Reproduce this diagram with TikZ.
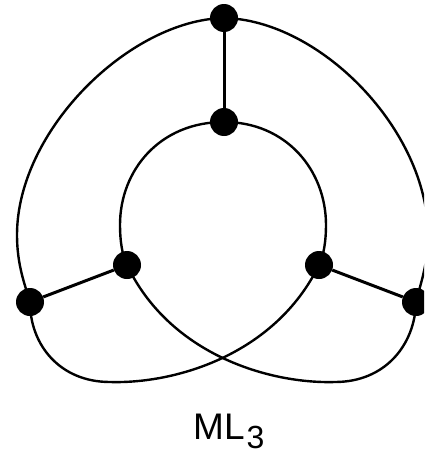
\documentclass[tikz,border=0pt]{standalone}
\usepackage{fontspec}
\setmainfont{Liberation Sans}
\begin{document}
\begin{tikzpicture}[x=1pt,y=-1pt,
  vtx/.style={circle,fill=black,inner sep=0pt,minimum size=28pt},
  curve/.style={line width=2.4pt},
  spoke/.style={line width=3pt}]
\useasboundingbox (0,0) rectangle (424,455);
\clip (0,0) rectangle (424,455);
\node[vtx] (to) at (224,18) {};
\node[vtx] (ti) at (224,122) {};
\node[vtx] (li) at (127,265) {};
\node[vtx] (ri) at (319,265) {};
\node[vtx] (lo) at (30,302) {};
\node[vtx] (ro) at (416,302) {};
% outer arcs
\draw[curve] (to.center) .. controls (130,20) and (17,130) .. (17,235)
  .. controls (17,265) and (25,285) .. (lo.center);
\draw[curve] (to.center) .. controls (320,20) and (428,130) .. (428,235)
  .. controls (428,265) and (420,285) .. (ro.center);
% inner arcs
\draw[curve] (ti.center) .. controls (160,122) and (120,170) .. (120,225)
  .. controls (120,240) and (122,255) .. (li.center);
\draw[curve] (ti.center) .. controls (286,122) and (326,170) .. (326,225)
  .. controls (326,240) and (324,255) .. (ri.center);
% bottom crossing curves
\draw[curve] (lo.center) .. controls (30,345) and (60,382) .. (110,382)
  .. controls (175,384) and (275,355) .. (ri.center);
\draw[curve] (ro.center) .. controls (415,345) and (385,382) .. (335,382)
  .. controls (270,384) and (170,355) .. (li.center);
% spokes
\draw[spoke] (to) -- (ti);
\draw[spoke] (li) -- (lo);
\draw[spoke] (ri) -- (ro);
\node[anchor=base west,inner sep=0pt] (lbl) at (193,439)
  {\fontsize{37}{40}\selectfont ML\kern2pt\raisebox{-9pt}{\fontsize{32}{35}\selectfont 3}};
\end{tikzpicture}
\end{document}
